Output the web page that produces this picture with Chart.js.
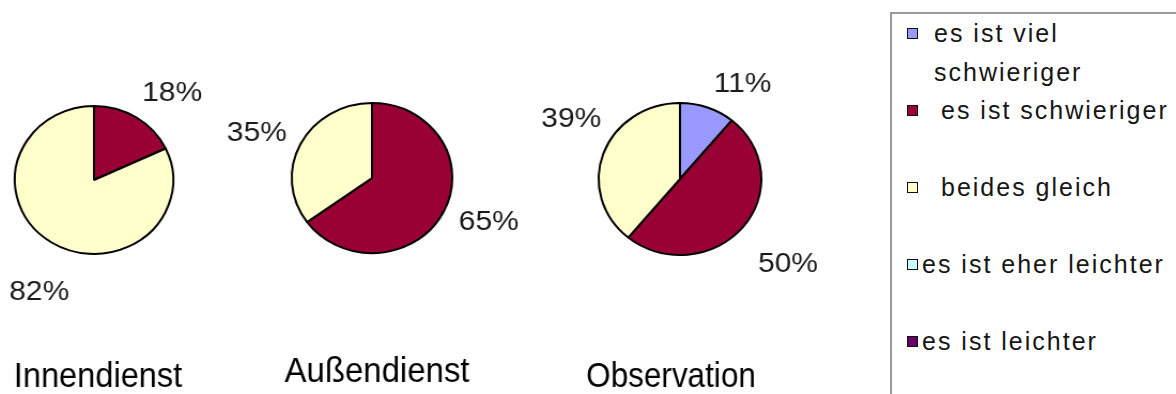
<!DOCTYPE html>
<html>
<head>
<meta charset="utf-8">
<script src="https://cdn.jsdelivr.net/npm/chart.js@4.4.1/dist/chart.umd.min.js"></script>
<style>
  html, body { margin: 0; padding: 0; background: #fff; }
  body { width: 1176px; height: 394px; position: relative; overflow: hidden; font-family: "Liberation Sans", Arial, sans-serif; }
  .pie { position: absolute; top: 0; width: 320px; height: 394px; transform: scaleX(1.07); transform-origin: 50% 50%; }
  #legend { position: absolute; left: 890px; top: 12px; width: 400px; height: 420px; border: 2px solid #9a9a9a; box-sizing: border-box; }
  .item { position: absolute; left: 0; display: flex; align-items: flex-start; font-size: 25px; letter-spacing: 2px; line-height: 39px; color: #161616; }
  .box { width: 9px; height: 9px; border: 1.5px solid #111; margin-top: 13.5px; margin-left: 15px; flex: none; }
  .txt { max-width: 252px; }
</style>
</head>
<body>
<canvas id="pie1" class="pie" width="320" height="394"></canvas>
<canvas id="pie2" class="pie" width="320" height="394"></canvas>
<canvas id="pie3" class="pie" width="320" height="394"></canvas>
<div id="legend"></div>
<script>
// Kategorien (Legende)
const categories = ["es ist viel schwieriger", "es ist schwieriger", "beides gleich", "es ist eher leichter", "es ist leichter"];
const groups = ["Innendienst", "Außendienst", "Observation"];

// Anteile in %
const innendienst = [0, 18, 82, 0, 0];
const aussendienst = [0, 65, 35, 0, 0];
const observation = [11, 50, 39, 0, 0];

const colors = ["#9999ff", "#990033", "#ffffcc", "#ccffff", "#660066"];

// Lage der drei Kreise (Bildschirmkoordinaten), Beschriftung: Winkel-/Abstandskorrektur je Segment
const STRETCH = 1.07;
const LABEL_GAP = 44;
const pies = [
  { id: "pie1", values: innendienst, title: groups[0], cx: 94, cy: 180, r: 74, titleX: 98, titleY: 387, titleScale: 0.87,
    nudgeAngle: [0, 9, -6, 0, 0], nudgeDist: [0, -5, 0, 0, 0] },
  { id: "pie2", values: aussendienst, title: groups[1], cx: 372, cy: 178, r: 75, titleX: 377, titleY: 382, titleScale: 0.88,
    nudgeAngle: [0, -7, -5, 0, 0], nudgeDist: [0, 0, 0, 0, 0] },
  { id: "pie3", values: observation, title: groups[2], cx: 680, cy: 179, r: 76, titleX: 671, titleY: 387, titleScale: 0.84,
    nudgeAngle: [13, -2, 10, 0, 0], nudgeDist: [-10, 11, 0, 0, 0] },
];

const pieLabels = {
  id: "pieLabels",
  afterDatasetsDraw(chart, args, opts) {
    const ctx = chart.ctx;
    const meta = chart.getDatasetMeta(0);
    const values = chart.data.datasets[0].data;
    ctx.save();
    ctx.font = "28px 'Liberation Sans', Arial, sans-serif";
    ctx.fillStyle = "#1a1a1a";
    ctx.textAlign = "center";
    ctx.textBaseline = "alphabetic";
    meta.data.forEach((arc, i) => {
      if (!values[i]) return;
      const p = arc.getProps(["x", "y", "startAngle", "endAngle", "outerRadius"], true);
      const mid = (p.startAngle + p.endAngle) / 2 + opts.nudgeAngle[i] * Math.PI / 180;
      // Abstand in Bildschirmpixeln, Leinwand ist horizontal gestreckt
      const d = p.outerRadius * STRETCH + LABEL_GAP + opts.nudgeDist[i];
      const x = p.x + Math.cos(mid) * d / STRETCH;
      const y = p.y + Math.sin(mid) * d;
      ctx.fillText(values[i] + "%", x, y + 10);
    });
    // Titel unter dem Kreis
    ctx.font = "35px 'Liberation Sans', Arial, sans-serif";
    ctx.fillStyle = "#000";
    ctx.translate(opts.titleX, opts.titleY);
    ctx.scale(opts.titleScale, 1);
    ctx.fillText(opts.title, 0, 0);
    ctx.restore();
  },
};

pies.forEach((p) => {
  const canvas = document.getElementById(p.id);
  canvas.style.left = (p.cx - 160) + "px";
  new Chart(canvas, {
    type: "pie",
    data: {
      labels: categories,
      datasets: [{
        data: p.values,
        backgroundColor: colors,
        borderColor: "#000",
        borderWidth: 2,
      }],
    },
    options: {
      responsive: false,
      animation: false,
      events: [],
      layout: {
        padding: { left: 160 - p.r - 1, right: 160 - p.r - 1, top: p.cy - p.r - 1, bottom: 394 - p.cy - p.r - 1 },
      },
      plugins: {
        legend: { display: false },
        tooltip: { enabled: false },
        pieLabels: {
          nudgeAngle: p.nudgeAngle,
          nudgeDist: p.nudgeDist,
          title: p.title,
          titleX: 160 + (p.titleX - p.cx) / STRETCH,
          titleY: p.titleY,
          titleScale: p.titleScale,
        },
      },
    },
    plugins: [pieLabels],
  });
});

// Legende
const legendIndent = [16, 23, 23, 4, 4];
const legend = document.getElementById("legend");
categories.forEach((name, i) => {
  const item = document.createElement("div");
  item.className = "item";
  item.style.top = (i * 77) + "px";
  const box = document.createElement("span");
  box.className = "box";
  box.style.background = colors[i];
  const txt = document.createElement("span");
  txt.className = "txt";
  txt.style.marginLeft = legendIndent[i] + "px";
  txt.textContent = name;
  item.appendChild(box);
  item.appendChild(txt);
  legend.appendChild(item);
});
</script>
</body>
</html>
